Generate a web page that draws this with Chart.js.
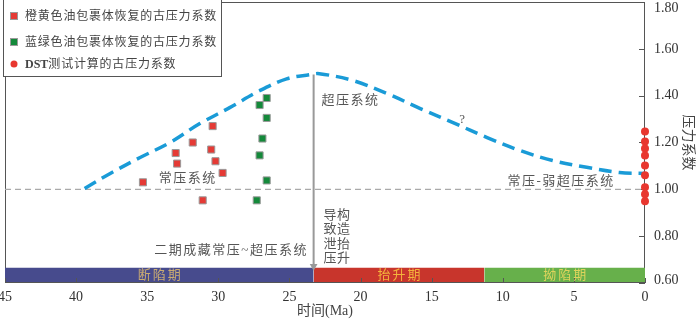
<!DOCTYPE html>
<html>
<head>
<meta charset="utf-8">
<script src="https://cdn.jsdelivr.net/npm/chart.js@4"></script>
<style>
html, body { margin: 0; padding: 0; background: #fff; }
#wrap { width: 700px; height: 322px; }
</style>
</head>
<body>
<div id="wrap"><canvas id="chart"></canvas></div>
<script>
// 橙黄色油包裹体 (时间 Ma, 压力系数)
const orangeAge = [30.4, 31.8, 33.0, 32.9, 30.5, 30.2, 29.7, 35.3, 31.1];
const orangeVal = [1.27, 1.20, 1.155, 1.11, 1.17, 1.12, 1.07, 1.03, 0.953];
// 蓝绿色油包裹体
const greenAge = [26.6, 27.1, 26.6, 26.9, 27.1, 26.6, 27.3];
const greenVal = [1.39, 1.36, 1.305, 1.217, 1.145, 1.038, 0.953];
// DST 测试 (现今, 画在 0 Ma 轴上)
const dstAge = [0, 0, 0, 0, 0, 0, 0, 0, 0];
const dstVal = [1.247, 1.204, 1.174, 1.145, 1.102, 1.060, 1.009, 0.979, 0.949];
// 压力演化趋势线
const curveAge = [39.4, 37.6, 35.5, 33.4, 31.3, 29.2, 27.1, 25.2, 23.6, 22.9, 20.5, 18.1, 15.8, 13.5, 11.1, 8.8, 6.5, 4.1, 1.8, 0];
const curveVal = [1.004, 1.068, 1.136, 1.200, 1.281, 1.349, 1.421, 1.472, 1.489, 1.494, 1.464, 1.408, 1.345, 1.285, 1.221, 1.166, 1.123, 1.094, 1.072, 1.068];
// 构造演化阶段
const stageNames = ['断陷期', '抬升期', '拗陷期'];
const stageFrom = [45, 23.3, 11.3];
const stageTo = [23.3, 11.3, 0];
const stageTop = 0.665;
// 抬升泄压箭头
const arrowAge = [23.3, 23.3];
const arrowVal = [1.49, 0.672];
const normalLine = 1.0;

const stageColors = ['#474b8d', '#c8352c', '#67b04b'];
const stageTextColors = ['#c9ab72', '#f3b23c', '#ddd35c'];

const pts = (xs, ys) => xs.map((v, i) => ({ x: v, y: ys[i] }));

const datasets = [];
stageNames.forEach((n, i) => {
  datasets.push({
    type: 'line', label: n,
    data: [{ x: stageFrom[i], y: stageTop }, { x: stageTo[i], y: stageTop }],
    borderWidth: 0, pointRadius: 0, fill: 'start',
    backgroundColor: stageColors[i], order: 9
  });
});
datasets.push({
  type: 'line', label: 'base',
  data: [{ x: 45, y: normalLine }, { x: 0, y: normalLine }],
  borderColor: '#aaa', borderWidth: 1.3, borderDash: [6, 4],
  pointRadius: 0, fill: false, order: 10
});
datasets.push({
  type: 'line', label: 'trend', data: pts(curveAge, curveVal),
  borderColor: '#1a9bd7', borderWidth: 3.5, borderDash: [13, 7],
  pointRadius: 0, fill: false, tension: 0.35, order: 5
});
datasets.push({
  type: 'line', label: 'arrow', data: pts(arrowAge, arrowVal),
  borderColor: '#999', borderWidth: 2, fill: false,
  pointRadius: [0, 4.5], pointStyle: 'triangle', rotation: 180,
  pointBackgroundColor: '#999', pointBorderWidth: 0, order: 6
});
datasets.push({
  type: 'scatter', label: '橙黄色油包裹体恢复的古压力系数', data: pts(orangeAge, orangeVal),
  pointStyle: 'rect', pointRadius: 5, backgroundColor: '#e53a35',
  borderColor: '#9a9a9a', borderWidth: 1, order: 1
});
datasets.push({
  type: 'scatter', label: '蓝绿色油包裹体恢复的古压力系数', data: pts(greenAge, greenVal),
  pointStyle: 'rect', pointRadius: 5, backgroundColor: '#14893a',
  borderColor: '#9a9a9a', borderWidth: 1, order: 1
});
datasets.push({
  type: 'scatter', label: 'DST测试计算的古压力系数', data: pts(dstAge, dstVal),
  pointStyle: 'circle', pointRadius: 4, backgroundColor: '#e8372f',
  borderWidth: 0, clip: false, order: 0
});

const CJK = "'Liberation Serif', 'Noto Sans CJK SC', serif";
const notes = [
  { text: '常压系统', x: 32.15, y: 1.047 },
  { text: '超压系统', x: 20.7, y: 1.379 },
  { text: '?', x: 12.8, y: 1.298 },
  { text: '常压-弱超压系统', x: 5.9, y: 1.034 },
  { text: '二期成藏常压~超压系统', x: 29.1, y: 0.740 }
];
const vertCols = [
  { text: '导致泄压', x: 22.15 },
  { text: '构造抬升', x: 21.2 }
];
const vertTop = 0.889, vertStep = 0.0615;

const decor = {
  id: 'decor',
  beforeDatasetsDraw(chart) {
    const { ctx, chartArea: a, scales: { y } } = chart;
    ctx.save();
    ctx.strokeStyle = '#555';
    ctx.lineWidth = 1;
    ctx.strokeRect(a.left + 0.5, a.top + 0.5, a.width - 1, a.height - 1);
    ctx.beginPath();
    y.ticks.forEach(t => {
      const py = Math.round(y.getPixelForValue(t.value)) + 0.5;
      ctx.moveTo(a.right - 6, py);
      ctx.lineTo(a.right, py);
    });
    ctx.stroke();
    // 右轴刻度文字 (顶部标签不被裁切)
    ctx.fillStyle = '#333';
    ctx.font = '14px ' + CJK;
    ctx.textAlign = 'left';
    ctx.textBaseline = 'middle';
    y.ticks.forEach(t => {
      const py = Math.max(y.getPixelForValue(t.value), 8);
      ctx.fillText(t.value.toFixed(2), a.right + 9, Math.min(py, a.bottom - 3));
    });
    ctx.restore();
  },
  afterDatasetsDraw(chart) {
    const { ctx, chartArea: a, scales: { x, y } } = chart;
    ctx.save();
    ctx.strokeStyle = '#555';
    ctx.lineWidth = 1;
    ctx.beginPath();
    x.ticks.forEach(t => {
      const px = Math.round(x.getPixelForValue(t.value)) + 0.5;
      ctx.moveTo(px, a.bottom);
      ctx.lineTo(px, a.bottom - 5);
    });
    ctx.moveTo(a.left, a.bottom - 0.5);
    ctx.lineTo(a.right, a.bottom - 0.5);
    ctx.stroke();

    // 阶段名称
    ctx.textAlign = 'center';
    ctx.textBaseline = 'middle';
    ctx.font = '13px ' + CJK;
    ctx.letterSpacing = '2px';
    const midY = (y.getPixelForValue(stageTop) + a.bottom) / 2;
    stageNames.forEach((n, i) => {
      ctx.fillStyle = stageTextColors[i];
      const px = (x.getPixelForValue(stageFrom[i]) + x.getPixelForValue(stageTo[i])) / 2;
      ctx.fillText(n, px + 1, midY);
    });

    // 注释文字
    ctx.fillStyle = '#555';
    ctx.letterSpacing = '1.5px';
    notes.forEach(n => {
      ctx.fillText(n.text, x.getPixelForValue(n.x), y.getPixelForValue(n.y));
    });
    ctx.letterSpacing = '0px';
    vertCols.forEach(c => {
      [...c.text].forEach((ch, i) => {
        ctx.fillText(ch, x.getPixelForValue(c.x), y.getPixelForValue(vertTop - i * vertStep));
      });
    });
    ctx.restore();
  },
  afterDraw(chart) {
    const { ctx } = chart;
    const items = chart.data.datasets.filter(d => d.type === 'scatter');
    ctx.save();
    ctx.fillStyle = '#fff';
    ctx.fillRect(3, 0, 219, 77);
    ctx.strokeStyle = '#555';
    ctx.lineWidth = 1;
    ctx.strokeRect(3.5, -0.5, 218, 77);
    const rows = [16, 42, 64];
    ctx.textBaseline = 'middle';
    ctx.textAlign = 'left';
    items.forEach((d, i) => {
      const cy = rows[i];
      ctx.fillStyle = d.backgroundColor;
      if (d.pointStyle === 'rect') {
        ctx.fillRect(10, cy - 4, 8, 8);
        ctx.strokeStyle = '#9a9a9a';
        ctx.strokeRect(10.5, cy - 3.5, 7, 7);
      } else {
        ctx.beginPath();
        ctx.arc(14, cy, 3.5, 0, Math.PI * 2);
        ctx.fill();
      }
      ctx.fillStyle = '#444';
      let label = d.label;
      let tx = 25;
      if (label.startsWith('DST')) {
        ctx.font = 'bold 12px ' + CJK;
        ctx.letterSpacing = '0px';
        ctx.fillText('DST', tx, cy + 1);
        tx += ctx.measureText('DST').width;
        label = label.slice(3);
      }
      ctx.font = '12px ' + CJK;
      ctx.letterSpacing = '0.8px';
      ctx.fillText(label, tx, cy + 1);
    });
    ctx.restore();
  }
};

new Chart(document.getElementById('chart'), {
  type: 'scatter',
  data: { datasets },
  options: {
    responsive: true,
    maintainAspectRatio: false,
    animation: false,
    events: [],
    layout: { padding: { left: 5, top: 2, right: 0, bottom: 0 }, autoPadding: false },
    plugins: { legend: { display: false }, tooltip: { enabled: false } },
    font: { family: CJK },
    scales: {
      x: {
        type: 'linear', position: 'bottom', reverse: true, min: 0, max: 45,
        grid: { display: false, drawTicks: false }, border: { display: false },
        ticks: { stepSize: 5, padding: 6, color: '#333', maxRotation: 0, autoSkip: false,
                 font: { family: CJK, size: 14 } },
        title: { display: true, text: '时间(Ma)', color: '#444',
                 font: { family: CJK, size: 14 }, padding: { top: 0, bottom: 2 } },
        afterFit(s) { s.height = 39; s.paddingLeft = 0; s.paddingRight = 0; }
      },
      y: {
        type: 'linear', position: 'right', min: 0.6, max: 1.8,
        grid: { display: false, drawTicks: false }, border: { display: false },
        ticks: { display: false, stepSize: 0.2 },
        title: { display: true, text: '压力系数', color: '#444',
                 font: { family: CJK, size: 14 }, padding: { top: 4, bottom: 0 } },
        afterFit(s) { s.width = 55; s.paddingTop = 0; s.paddingBottom = 0; }
      }
    }
  },
  plugins: [decor]
});
</script>
</body>
</html>
